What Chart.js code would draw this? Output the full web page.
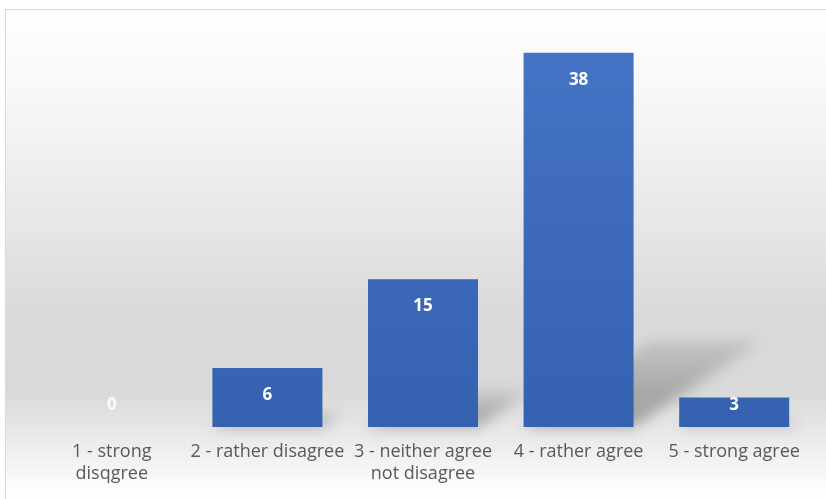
<!DOCTYPE html>
<html>
<head>
<meta charset="utf-8">
<script src="https://cdn.jsdelivr.net/npm/chart.js@4.4.1/dist/chart.umd.min.js"></script>
<style>
  html, body { margin: 0; padding: 0; background: #ffffff; }
  #wrap { position: relative; width: 826px; height: 499px; }
</style>
</head>
<body>
<div id="wrap"><canvas id="c" width="826" height="499"></canvas></div>
<script>
const categories = [
  ["1 - strong", "disqgree"],
  "2 - rather disagree",
  ["3 - neither agree", "not disagree"],
  "4 - rather agree",
  "5 - strong agree"
];
const counts = [0, 6, 15, 38, 3];
const yMax = 40;

const bgPlugin = {
  id: 'bgPlugin',
  beforeDraw(chart) {
    const ctx = chart.ctx;
    const W = chart.width, H = chart.height;
    ctx.save();
    ctx.fillStyle = '#ffffff';
    ctx.fillRect(0, 0, W, H);
    const g = ctx.createLinearGradient(0, 9, 0, H);
    g.addColorStop(0.0, '#ffffff');
    g.addColorStop(0.20, '#f6f6f6');
    g.addColorStop(0.45, '#e6e6e6');
    g.addColorStop(0.62, '#dadada');
    g.addColorStop(0.78, '#d9d9d9');
    g.addColorStop(0.88, '#ebebeb');
    g.addColorStop(0.97, '#fbfbfb');
    g.addColorStop(1.0, '#ffffff');
    ctx.fillStyle = g;
    ctx.fillRect(5, 9, W - 5, H - 9);
    ctx.strokeStyle = '#d9d9d9';
    ctx.lineWidth = 1;
    ctx.strokeRect(5.5, 9.5, W, H);
    ctx.restore();
  }
};

const shadowPlugin = {
  id: 'shadowPlugin',
  beforeDatasetsDraw(chart) {
    const ctx = chart.ctx;
    const meta = chart.getDatasetMeta(0);
    ctx.save();
    ctx.filter = 'blur(7px)';
    meta.data.forEach(bar => {
      const h = bar.base - bar.y;
      if (h <= 0) return;
      const w = bar.width;
      const sh = h * 0.23, dx = h * 0.34;
      const l = bar.x - w / 2, r = bar.x + w / 2;
      const g = ctx.createLinearGradient(0, bar.base, 0, bar.base - sh);
      g.addColorStop(0, 'rgba(0,0,0,0.30)');
      g.addColorStop(1, 'rgba(0,0,0,0.10)');
      ctx.fillStyle = g;
      ctx.beginPath();
      ctx.moveTo(l, bar.base);
      ctx.lineTo(r, bar.base);
      ctx.lineTo(r + dx, bar.base - sh);
      ctx.lineTo(l + dx, bar.base - sh);
      ctx.closePath();
      ctx.fill();
    });
    ctx.restore();
  }
};

const labelPlugin = {
  id: 'labelPlugin',
  afterDatasetsDraw(chart) {
    const ctx = chart.ctx;
    const meta = chart.getDatasetMeta(0);
    ctx.save();
    ctx.font = 'bold 17px "Open Sans", Lato, sans-serif';
    ctx.textAlign = 'center';
    ctx.textBaseline = 'middle';
    meta.data.forEach((bar, i) => {
      const y = Math.min(bar.y + 27, bar.base - 22);
      ctx.fillStyle = (bar.base - bar.y) > 0 ? '#ffffff' : 'rgba(255,255,255,0.85)';
      ctx.fillText(String(counts[i]), bar.x, y);
    });
    ctx.restore();
  }
};

const ctx = document.getElementById('c').getContext('2d');
new Chart(ctx, {
  type: 'bar',
  data: {
    labels: categories,
    datasets: [{
      data: counts,
      backgroundColor: (c) => {
        const area = c.chart.chartArea;
        if (!area) return '#4472c4';
        const g = c.chart.ctx.createLinearGradient(0, area.top, 0, area.bottom);
        g.addColorStop(0, '#4674c6');
        g.addColorStop(1, '#3461b0');
        return g;
      },
      borderWidth: 0,
      barPercentage: 0.707,
      categoryPercentage: 1.0
    }]
  },
  options: {
    responsive: false,
    animation: false,
    devicePixelRatio: 1,
    layout: { padding: { left: 34, right: 14, top: 33, bottom: 0 } },
    plugins: { legend: { display: false }, tooltip: { enabled: false } },
    scales: {
      x: {
        grid: { display: false, drawTicks: false },
        border: { display: false },
        ticks: {
          color: '#595959',
          font: { family: '"Open Sans", Lato, sans-serif', size: 18, lineHeight: 1.22 },
          padding: 14,
          maxRotation: 0,
          autoSkip: false
        }
      },
      y: { display: false, min: 0, max: yMax }
    }
  },
  plugins: [bgPlugin, shadowPlugin, labelPlugin]
});
</script>
</body>
</html>
